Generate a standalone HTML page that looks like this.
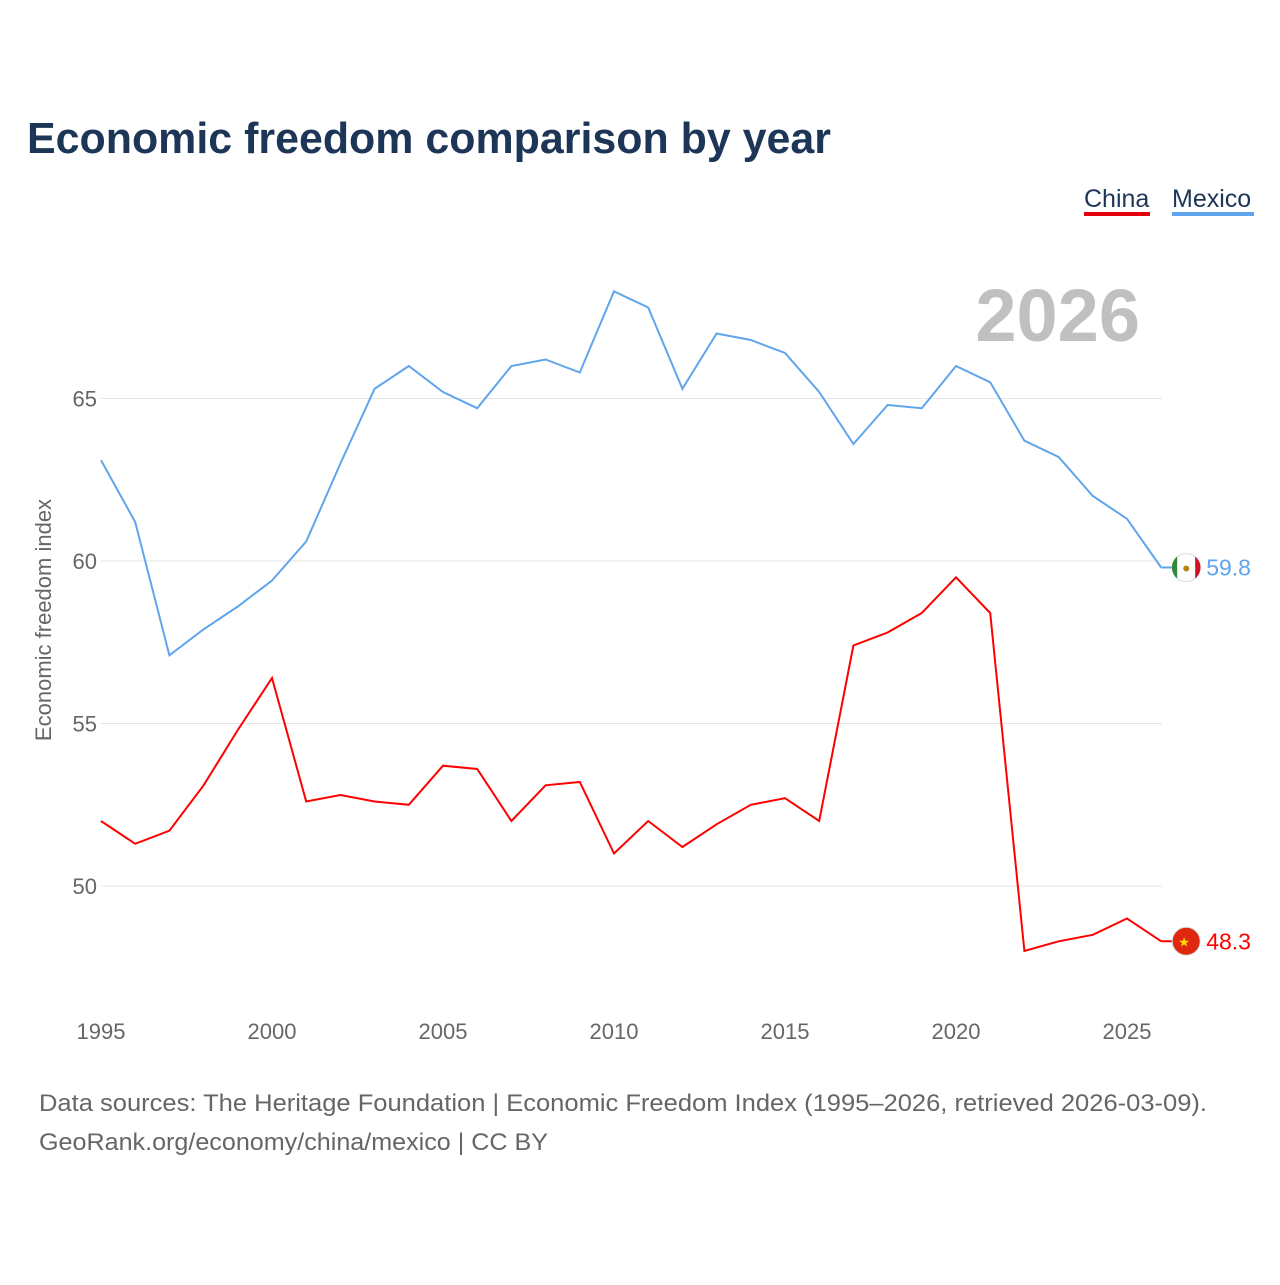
<!DOCTYPE html>
<html><head><meta charset="utf-8"><style>
body{margin:0;background:#fff;font-family:"Liberation Sans",sans-serif;}
svg text{font-family:"Liberation Sans",sans-serif;}
</style></head><body>
<svg id="chart" width="1280" height="1280" xmlns="http://www.w3.org/2000/svg">
<text x="27" y="153" font-size="44" font-weight="bold" fill="#1d3557" textLength="804" lengthAdjust="spacingAndGlyphs">Economic freedom comparison by year</text>
<g>
<text x="1084" y="207" font-size="25" fill="#1d3557">China</text>
<rect x="1084" y="212" width="66" height="4" fill="#e4000f"/>
<text x="1172" y="207" font-size="25" fill="#1d3557">Mexico</text>
<rect x="1172" y="212" width="82" height="4" fill="#60a5eb"/>
</g>
<text x="1140" y="341" font-size="74" font-weight="bold" fill="#c0c0c0" text-anchor="end">2026</text>
<text transform="translate(51,620) rotate(-90)" font-size="22" fill="#666" text-anchor="middle">Economic freedom index</text>
<g id="grid"></g><g id="xt"></g><g id="series"></g>
<text x="39" y="1111" font-size="24" fill="#666" textLength="1168" lengthAdjust="spacingAndGlyphs">Data sources: The Heritage Foundation | Economic Freedom Index (1995–2026, retrieved 2026-03-09).</text>
<text x="39" y="1150" font-size="24" fill="#666" textLength="509" lengthAdjust="spacingAndGlyphs">GeoRank.org/economy/china/mexico | CC BY</text>
</svg>
<script>
const years=[1995,1996,1997,1998,1999,2000,2001,2002,2003,2004,2005,2006,2007,2008,2009,2010,2011,2012,2013,2014,2015,2016,2017,2018,2019,2020,2021,2022,2023,2024,2025,2026];
const mexico=[63.1,61.2,57.1,57.9,58.6,59.4,60.6,63.0,65.3,66.0,65.2,64.7,66.0,66.2,65.8,68.3,67.8,65.3,67.0,66.8,66.4,65.2,63.6,64.8,64.7,66.0,65.5,63.7,63.2,62.0,61.3,59.8];
const china=[52.0,51.3,51.7,53.1,54.8,56.4,52.6,52.8,52.6,52.5,53.7,53.6,52.0,53.1,53.2,51.0,52.0,51.2,51.9,52.5,52.7,52.0,57.4,57.8,58.4,59.5,58.4,48.0,48.3,48.5,49.0,48.3];
const yTicks=[50,55,60,65];
const xTicks=[1995,2000,2005,2010,2015,2020,2025];
const NS='http://www.w3.org/2000/svg';
const X=v=>101+(v-1995)*34.2;
const Y=v=>561-(v-60)*32.5;
function mk(t,a,p){const e=document.createElementNS(NS,t);for(const k in a)e.setAttribute(k,a[k]);p.appendChild(e);return e;}
const grid=document.getElementById('grid');
yTicks.forEach(t=>{
 const l=mk('line',{x1:101,x2:1162,y1:Y(t),y2:Y(t),stroke:'#e6e6e6','stroke-width':1},grid);
 
 
 const tx=mk('text',{x:97,y:Y(t)+8,'font-size':22,fill:'#666','text-anchor':'end'},grid);
 tx.textContent=t;
 
 
});
const xt=document.getElementById('xt');
xTicks.forEach(t=>{
 const tx=mk('text',{x:X(t),y:1039,'font-size':22,fill:'#666','text-anchor':'middle'},xt);
 tx.textContent=t;
 
 
});
const sg=document.getElementById('series');
function line(vals,color,name){
 const d=vals.map((v,i)=>(i?'L':'M')+X(years[i]).toFixed(1)+','+Y(v).toFixed(1)).join(' ');
 const p=mk('path',{d:d,fill:'none',stroke:color,'stroke-width':2},sg);
 
 
 const lv=vals[vals.length-1],ly=Y(lv),lx=X(years[years.length-1]);
 mk('line',{x1:lx,x2:lx+12,y1:ly,y2:ly,stroke:color,'stroke-width':2},sg);
 const c=mk('circle',{cx:lx+25,cy:ly,r:14,fill:name==='china'?'#de2910':'#fff',stroke:'#ddd','stroke-width':1},sg);
 
 
 if(name==='mexico'){
  mk('path',{d:`M${lx+25-9},${ly-11} A14,14 0 0 0 ${lx+25-9},${ly+11} Z`,fill:'#2f8a3a'},sg);
  mk('path',{d:`M${lx+25+9},${ly-11} A14,14 0 0 1 ${lx+25+9},${ly+11} Z`,fill:'#ce1126'},sg);
  mk('circle',{cx:lx+25,cy:ly+1,r:3,fill:'#b8860b'},sg);
 } else {
  const s=mk('text',{x:lx+17,y:ly+5,'font-size':13,fill:'#ffde00'},sg);s.textContent='★';
 }
 const t=mk('text',{x:lx+45,y:ly+8,'font-size':23,fill:color},sg);
 t.textContent=lv.toFixed(1);
 
 
}
line(mexico,'#60a5eb','mexico');
line(china,'#ff0000','china');
</script>
</body></html>
